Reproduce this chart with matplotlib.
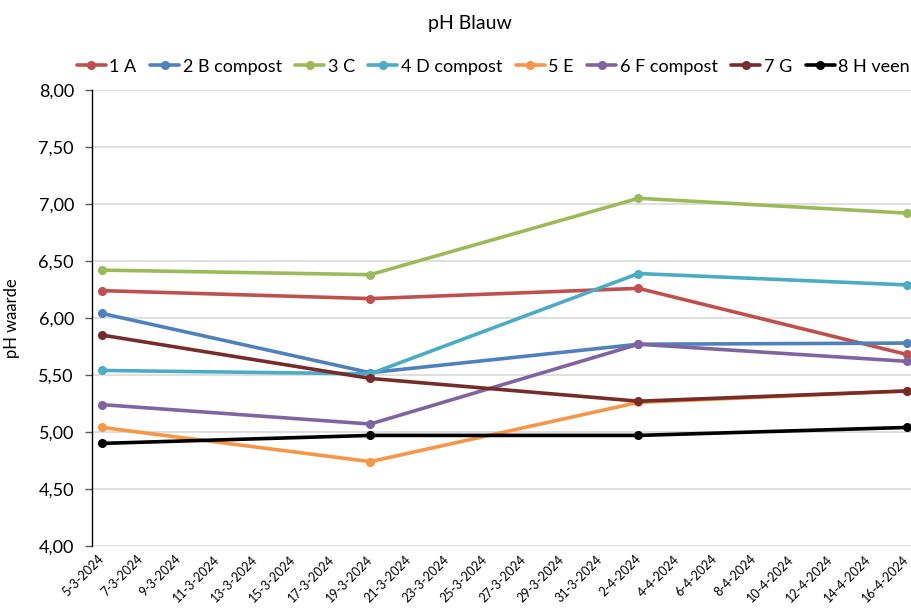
import matplotlib
matplotlib.use('Agg')
from matplotlib import pyplot as plt
import matplotlib.dates as mdates
import matplotlib.transforms as mtransforms
import pandas as pd

plt.rcParams['font.family'] = ['Lato', 'DejaVu Sans']

# Measurement dates and pH per bed
dates = pd.to_datetime(['2024-03-05', '2024-03-19', '2024-04-02', '2024-04-16'])
series_names = ['1 A', '2 B compost', '3 C', '4 D compost',
                '5 E', '6 F compost', '7 G', '8 H veen']
ph_1a = [6.24, 6.17, 6.26, 5.68]
ph_2b = [6.04, 5.52, 5.77, 5.78]
ph_3c = [6.42, 6.38, 7.05, 6.92]
ph_4d = [5.54, 5.51, 6.39, 6.29]
ph_5e = [5.04, 4.74, 5.26, 5.36]
ph_6f = [5.24, 5.07, 5.77, 5.62]
ph_7g = [5.85, 5.47, 5.27, 5.36]
ph_8h = [4.90, 4.97, 4.97, 5.04]
series_values = [ph_1a, ph_2b, ph_3c, ph_4d, ph_5e, ph_6f, ph_7g, ph_8h]
colors = ['#C0504D', '#4F81BD', '#9BBB59', '#4BACC6',
          '#F79646', '#8064A2', '#772C2A', '#000000']

tick_dates = pd.date_range('2024-03-05', '2024-04-16', freq='2D')
tick_labels = [f'{d.day}-{d.month}-{d.year}' for d in tick_dates]
y_ticks = [4.0, 4.5, 5.0, 5.5, 6.0, 6.5, 7.0, 7.5, 8.0]

fig = plt.figure(figsize=(9.12, 6.13), dpi=100)
ax = fig.add_axes([0.1009, 0.1093, 0.899, 0.7439])

for name, vals, col in zip(series_names, series_values, colors):
    ax.plot(dates, vals, color=col, lw=2.6, marker='o', markersize=5.5,
            label=name, solid_capstyle='round')

# axes styling
ax.set_ylim(4.0, 8.0)
ax.set_yticks(y_ticks)
ax.set_yticklabels([f'{v:.2f}'.replace('.', ',') for v in y_ticks], fontsize=13)
ax.grid(axis='y', color='#D9D9D9', lw=1.2)
ax.set_axisbelow(True)

x0 = mdates.date2num(pd.Timestamp('2024-03-05'))
x1 = mdates.date2num(pd.Timestamp('2024-04-16'))
ax.set_xlim(x0 - 0.52, x1 + 0.27)
ax.set_xticks(mdates.date2num(tick_dates))
ax.set_xticklabels(tick_labels, rotation=45, ha='right',
                   rotation_mode='anchor', fontsize=9)
ax.tick_params(axis='x', length=0, pad=5)
ax.tick_params(axis='y', length=5, width=1, color='#595959', pad=8)

# nudge the rotated date labels a little to the left
shift = mtransforms.ScaledTranslation(-4 / 100, 0, fig.dpi_scale_trans)
for lbl in ax.get_xticklabels():
    lbl.set_transform(lbl.get_transform() + shift)

for side in ['top', 'right', 'bottom']:
    ax.spines[side].set_visible(False)
ax.spines['left'].set_color('#000000')
ax.spines['left'].set_linewidth(1.0)

ax.set_ylabel('pH waarde', fontsize=12, labelpad=4)
ax.yaxis.set_label_coords(-0.088, 0.5)

fig.text(0.515, 0.962, 'pH Blauw', ha='center', va='center', fontsize=14)
fig.legend(loc='center', bbox_to_anchor=(0.541, 0.891), ncol=8, frameon=False,
           fontsize=13, handlelength=1.6, handletextpad=0.2,
           columnspacing=0.75, borderaxespad=0)

fig.savefig('out.png', dpi=100)
